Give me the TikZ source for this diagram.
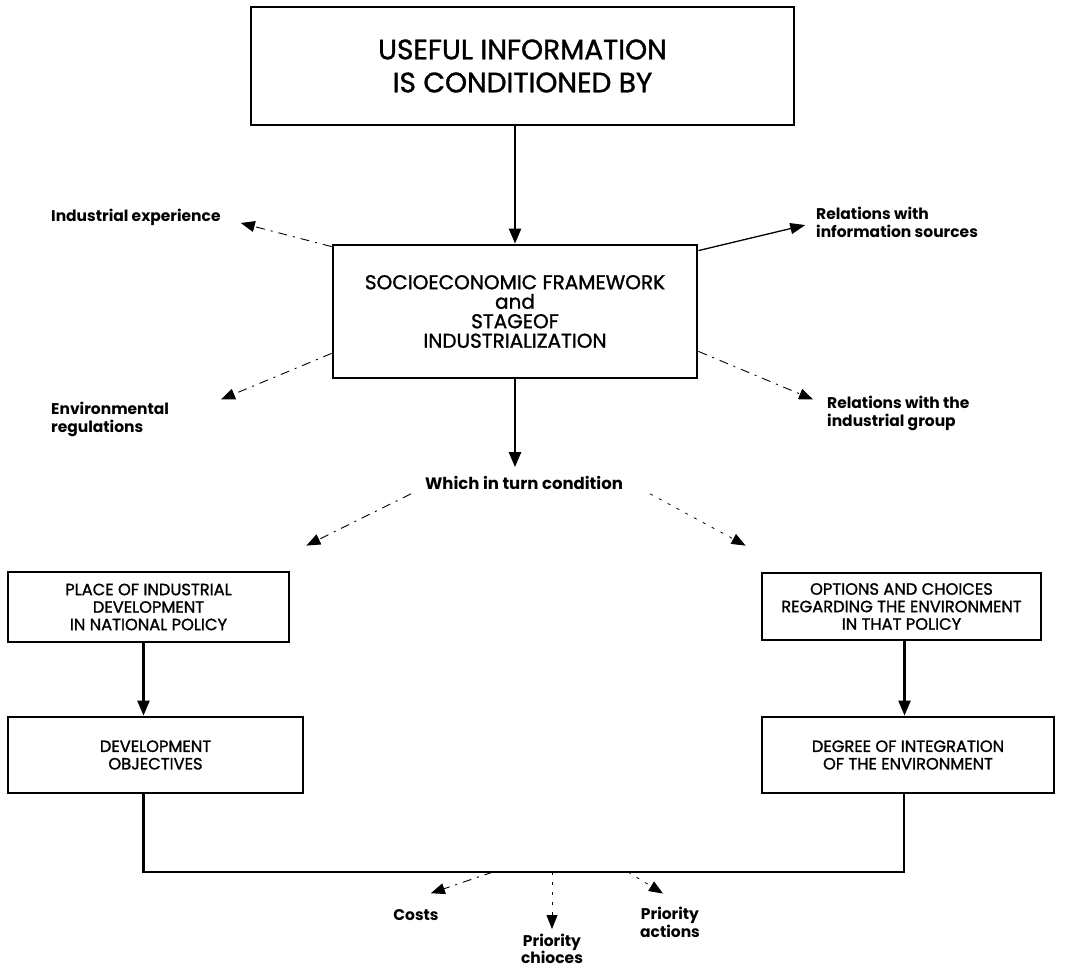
\documentclass[tikz,border=0pt]{standalone}
\usepackage{fontspec}
\setmainfont{Poppins}
\newfontfamily\boxfont{Poppins}[FakeBold=1.3]
\usetikzlibrary{arrows.meta,calc}
\begin{document}
\begin{tikzpicture}[x=1pt,y=-1pt,
  box/.style={draw,line width=2.8pt,align=center,inner sep=0pt,font=\boxfont\fontsize{16.3}{17.5}\selectfont},
  lbl/.style={align=left,inner sep=0pt,font=\bfseries\fontsize{15.5}{18}\selectfont},
  solidarrow/.style={line width=2.4pt,-{Triangle[length=15pt,width=12pt]}},
  thinarrow/.style={line width=1.3pt,-{Triangle[length=15pt,width=11pt]}},
  dasharrow/.style={line width=0.9pt,dash pattern=on 9pt off 6pt on 2pt off 6pt,-{Triangle[length=14pt,width=11pt]}},
  dotarrow/.style={line width=0.8pt,dash pattern=on 3pt off 7pt,-{Triangle[length=14pt,width=11pt]}},
  conn/.style={line width=2.8pt}]
\useasboundingbox (0,0) rectangle (1067,973);
% boxes
\node[box,minimum width=543pt,minimum height=118pt,font=\boxfont\fontsize{28}{33}\selectfont] (top) at (522.5,66) {USEFUL INFORMATION\\IS CONDITIONED BY};
\node[box,minimum width=364pt,minimum height=133pt,font=\boxfont\fontsize{20}{19.5}\selectfont] (mid) at (515,311.5) {SOCIOECONOMIC FRAMEWORK\\and\\STAGEOF\\INDUSTRIALIZATION};
\node[box,minimum width=281pt,minimum height=70pt] (place) at (148.5,607) {PLACE OF INDUSTRIAL\\DEVELOPMENT\\IN NATIONAL POLICY};
\node[box,minimum width=295pt,minimum height=76pt] (devel) at (155.5,755) {DEVELOPMENT\\OBJECTIVES};
\node[box,minimum width=279pt,minimum height=67pt] (options) at (901.5,606.5) {OPTIONS AND CHOICES\\REGARDING THE ENVIRONMENT\\IN THAT POLICY};
\node[box,minimum width=292pt,minimum height=76pt] (degree) at (908,755) {DEGREE OF INTEGRATION\\OF THE ENVIRONMENT};
% labels
\node[lbl,anchor=west] (ie) at (51,217) {Industrial experience};
\node[lbl,anchor=west] (er) at (51,419) {Environmental\\regulations};
\node[lbl,anchor=west] (ris) at (816,222.5) {Relations with\\information sources};
\node[lbl,anchor=west] (rig) at (827,413) {Relations with the\\industrial group};
\node[lbl,font=\bfseries\fontsize{16.5}{18}\selectfont] (which) at (524,483) {Which in turn condition};
\node[lbl] (costs) at (416,915) {Costs};
\node[lbl,align=center,font=\bfseries\fontsize{15.5}{17}\selectfont] (pc) at (552,949) {Priority\\chioces};
\node[lbl,align=center] (pa) at (670,922) {Priority\\actions};
% main arrows
\draw[solidarrow] (top.south -| mid.north) -- (mid.north);
\draw[solidarrow,shorten >=9pt] (mid.south) -- (mid.south |- which.north);
\draw[solidarrow] ($(place.south)+(-5,0)$) -- ($(place.south |- devel.north)+(-5,0)$);
\draw[solidarrow] ($(options.south)+(3,0)$) -- ($(options.south |- degree.north)+(3,0)$);
% side arrows
\draw[dasharrow] ($(mid.north west)+(0,3)$) -- ($(ie.east)+(20,6)$);
\draw[dasharrow] ($(mid.south west)+(0,-26)$) -- ($(er.north west)+(170,-2)$);
\draw[thinarrow,shorten >=11pt] ($(mid.north east)+(0,7)$) -- (ris.west);
\draw[dasharrow] ($(mid.south east)+(0,-28)$) -- ($(rig.north west)+(-14,4)$);
% which in turn
\draw[dasharrow] ($(which.south west)+(-14,4)$) -- ($(place.north east)+(16,-25)$);
\draw[dotarrow] ($(which.south east)+(27,4)$) -- ($(options.north west)+(-15,-26)$);
% bottom junction
\coordinate (hl) at (0,872);
\draw[conn] ($(devel.south)+(-12,0)$) coordinate (dl) -- (dl |- hl) -- ($(degree.south |- hl)+(-4,0)$) -- ($(degree.south)+(-4,0)$);
\draw[dasharrow] (hl -| 493,0) -- ($(costs.north east)+(-8,-16)$);
\draw[dotarrow,shorten >=5pt] (hl -| pc.north) -- (pc.north);
\draw[dotarrow] (hl -| 628,0) -- ($(pa.north)+(-7,-13)$);
\end{tikzpicture}
\end{document}
